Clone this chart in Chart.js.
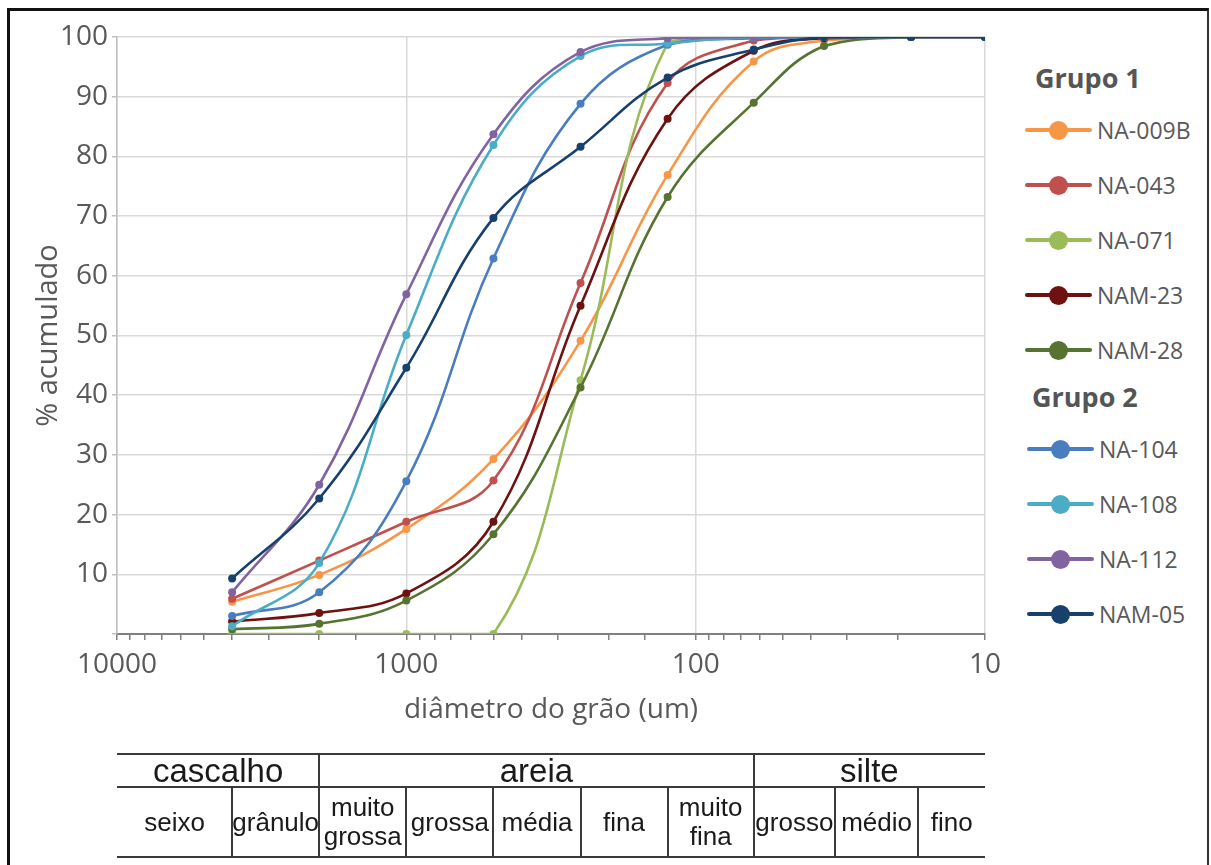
<!DOCTYPE html>
<html><head><meta charset="utf-8">
<script src="https://cdn.jsdelivr.net/npm/chart.js@4.4.1/dist/chart.umd.min.js"></script>
<style>
html,body{margin:0;padding:0;background:#fff;width:1211px;height:865px;overflow:hidden;position:relative;}
#frame{position:absolute;left:7px;top:8px;width:1202px;height:880px;border-left:3px solid #111;border-top:3px solid #111;border-right:2px solid #333;box-sizing:border-box;pointer-events:none;}
#cv{position:absolute;left:0;top:0;}
.lg-head{position:absolute;font:bold 27px 'Open Sans';color:#555;line-height:30px;white-space:nowrap;}
.lg-line{position:absolute;height:4px;border-radius:2px;}
.lg-dot{position:absolute;width:19px;height:19px;border-radius:50%;}
.lg-text{position:absolute;font:23px 'Open Sans';color:#595959;line-height:30px;white-space:nowrap;}
.tb-h{position:absolute;background:#3a3a3a;height:2px;}
.tb-v{position:absolute;background:#3a3a3a;width:2px;}
.tb-t{position:absolute;font-family:'Liberation Sans',Arial,sans-serif;color:#1a1a1a;text-align:center;white-space:pre;display:flex;align-items:center;justify-content:center;}
</style>
</head><body>
<canvas id="cv" width="1009" height="760"></canvas>
<div id="legend"></div>
<div id="table"></div>
<div id="frame"></div>
<script>
// ---- data ----
const diameters = [4000, 2000, 1000, 500, 250, 125, 63, 36, 18, 10];
const seriesNames = ['NA-009B', 'NA-043', 'NA-071', 'NAM-23', 'NAM-28', 'NA-104', 'NA-108', 'NA-112', 'NAM-05'];
const seriesGroups = ['Grupo 1', 'Grupo 1', 'Grupo 1', 'Grupo 1', 'Grupo 1', 'Grupo 2', 'Grupo 2', 'Grupo 2', 'Grupo 2'];
const seriesColors = ['#F79646', '#C0504D', '#9BBB59', '#6E1111', '#577330', '#4A7DBF', '#4BACC6', '#8064A2', '#17406D'];
const na009b = [5.4, 9.9, 17.6, 29.3, 49.1, 76.9, 95.9, 99.4, 100, 100];
const na043  = [5.9, 12.3, 18.8, 25.7, 58.8, 92.3, 99.4, 100, 100, 100];
const na071  = [0, 0, 0, 0, 42.5, 99.0, 100, 100, 100, 100];
const nam23  = [2.1, 3.5, 6.8, 18.8, 55.0, 86.3, 97.7, 99.8, 100, 100];
const nam28  = [0.8, 1.7, 5.6, 16.7, 41.3, 73.2, 89.0, 98.5, 100, 100];
const na104  = [3.0, 7.0, 25.6, 62.9, 88.8, 98.7, 99.8, 100, 100, 100];
const na108  = [1.3, 11.9, 50.1, 81.9, 96.8, 98.9, 100, 100, 100, 100];
const na112  = [7.0, 25.0, 56.9, 83.7, 97.5, 99.8, 100, 100, 100, 100];
const nam05  = [9.3, 22.7, 44.6, 69.7, 81.6, 93.2, 97.9, 100, 100, 100];
const seriesValues = [na009b, na043, na071, nam23, nam28, na104, na108, na112, nam05];
const xTickLabels = [10000, 1000, 100, 10];
const yTickLabels = [10, 20, 30, 40, 50, 60, 70, 80, 90, 100];
const headerNames = ['cascalho', 'areia', 'silte'];
const headerLimits = [10000, 2000, 63, 10];
const classNames = ['seixo', 'grânulo', 'muito\ngrossa', 'grossa', 'média', 'fina', 'muito\nfina', 'grosso', 'médio', 'fino'];
const classLimits = [10000, 4000, 2000, 1000, 500, 250, 125, 63, 33, 17, 10];

// ---- chart ----
const n = seriesNames.length;
const datasets = seriesNames.map((name, i) => ({
  label: name,
  data: diameters.map((d, j) => ({x: d, y: seriesValues[i][j]})),
  borderColor: seriesColors[i],
  backgroundColor: seriesColors[i],
  pointBackgroundColor: seriesColors[i],
  pointBorderWidth: 0,
  pointRadius: 4,
  borderWidth: 2.6,
  tension: 0.4,
  fill: false,
  order: n - i
}));

const fontFam = "'Open Sans', sans-serif";
const chart = new Chart(document.getElementById('cv'), {
  type: 'line',
  data: {datasets},
  options: {
    responsive: false,
    animation: false,
    devicePixelRatio: 1,
    layout: {padding: {top: 37, right: 14, left: 0, bottom: 0}},
    plugins: {legend: {display: false}, tooltip: {enabled: false}},
    scales: {
      x: {
        type: 'logarithmic',
        reverse: true,
        min: 10, max: 10000,
        afterFit: s => { s.height = 126; },
        border: {color: '#808080', width: 2},
        grid: {
          color: c => xTickLabels.includes(c.tick && c.tick.value) ? '#D9D9D9' : 'rgba(0,0,0,0)',
          lineWidth: 1.5,
          tickColor: '#808080',
          tickLength: 6,
          drawOnChartArea: true
        },
        ticks: {
          autoSkip: false, maxRotation: 0, padding: 8,
          color: '#595959',
          font: {family: fontFam, size: 28},
          callback: v => xTickLabels.includes(v) ? String(v) : ''
        },
        title: {
          display: true, text: 'diâmetro do grão (um)', color: '#595959',
          font: {family: fontFam, size: 28}, padding: {top: 0, bottom: 33}
        }
      },
      y: {
        min: 0, max: 100,
        afterFit: s => { s.width = 117; },
        border: {color: '#BFBFBF', width: 1.5},
        grid: {
          color: c => yTickLabels.includes(c.tick && c.tick.value) ? '#D9D9D9' : 'rgba(0,0,0,0)',
          lineWidth: 1.5,
          tickColor: '#BFBFBF',
          tickLength: 5
        },
        ticks: {
          stepSize: 5, padding: 4,
          color: '#595959',
          font: {family: fontFam, size: 28},
          callback: v => yTickLabels.includes(v) ? String(v) : ''
        },
        title: {
          display: true, text: '% acumulado', color: '#595959',
          font: {family: fontFam, size: 29}, padding: {top: 31, bottom: 0}
        }
      }
    }
  }
});

// ---- legend (HTML, built from series arrays) ----
const lg = document.getElementById('legend');
let groupsSeen = [];
let yPos = 63;
seriesNames.forEach((name, i) => {
  const g = seriesGroups[i];
  const dx = groupsSeen.length === 2 || (groupsSeen.length === 1 && g !== groupsSeen[0]) ? 2 : 0;
  if (!groupsSeen.includes(g)) {
    if (groupsSeen.length) yPos -= 8;
    const h = document.createElement('div');
    h.className = 'lg-head';
    h.textContent = g;
    h.style.left = (groupsSeen.length ? 1032 : 1035) + 'px';
    h.style.top = yPos + 'px';
    lg.appendChild(h);
    groupsSeen.push(g);
    yPos += 52;
  }
  const cy = yPos + 15;
  const ln = document.createElement('div');
  ln.className = 'lg-line';
  ln.style.background = seriesColors[i];
  ln.style.left = (1025 + dx) + 'px'; ln.style.width = '67px'; ln.style.top = (cy - 2) + 'px';
  lg.appendChild(ln);
  const dt = document.createElement('div');
  dt.className = 'lg-dot';
  dt.style.background = seriesColors[i];
  dt.style.left = (1049 + dx) + 'px'; dt.style.top = (cy - 9.5) + 'px';
  lg.appendChild(dt);
  const tx = document.createElement('div');
  tx.className = 'lg-text';
  tx.textContent = name;
  tx.style.left = (1097 + dx) + 'px'; tx.style.top = (cy - 15) + 'px';
  lg.appendChild(tx);
  yPos += 55;
});

// ---- classification table aligned to the x scale ----
const xs = chart.scales.x;
const px = v => xs.getPixelForValue(v);
const tb = document.getElementById('table');
const T1 = 754, T2 = 787, T3 = 857;
const L = px(classLimits[0]), R = px(classLimits[classLimits.length - 1]);
function hline(y) { const d = document.createElement('div'); d.className = 'tb-h'; d.style.left = L + 'px'; d.style.width = (R - L) + 'px'; d.style.top = (y - 1) + 'px'; tb.appendChild(d); }
function vline(x, y1, y2) { const d = document.createElement('div'); d.className = 'tb-v'; d.style.left = (x - 1) + 'px'; d.style.top = y1 + 'px'; d.style.height = (y2 - y1) + 'px'; tb.appendChild(d); }
function text(t, x1, x2, y1, y2, size, lh) {
  const d = document.createElement('div'); d.className = 'tb-t'; d.textContent = t;
  d.style.left = x1 + 'px'; d.style.width = (x2 - x1) + 'px'; d.style.top = y1 + 'px'; d.style.height = (y2 - y1) + 'px';
  d.style.fontSize = size + 'px'; d.style.lineHeight = lh + 'px';
  tb.appendChild(d);
}
hline(T1); hline(T2); hline(T3);
headerNames.forEach((h, i) => {
  const a = px(headerLimits[i]), b = px(headerLimits[i + 1]);
  if (i > 0) vline(a, T1, T3);
  text(h, a, b, T1, T2, 33, 34);
});
classNames.forEach((c, i) => {
  const a = px(classLimits[i]), b = px(classLimits[i + 1]);
  if (i > 0) vline(a, T2, T3);
  text(c, a, b, T2, T3, 26, 29);
});
</script>
</body></html>
